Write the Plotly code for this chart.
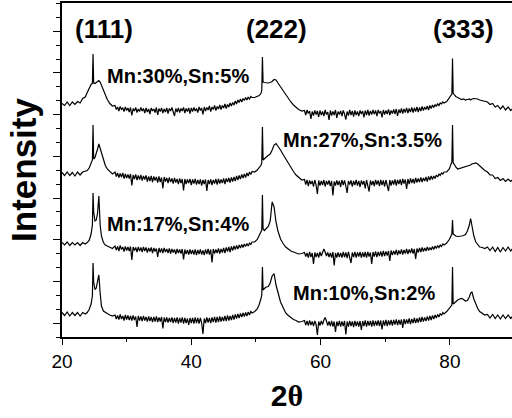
import plotly.graph_objects as go

# 2-theta grid (degrees), shared by all four scans
two_theta = [
    20.0, 20.4, 20.8, 21.2, 21.6, 22.0, 22.4, 22.8, 23.2, 23.6,
    23.9, 24.2, 24.5, 24.7, 24.8, 24.9, 25.1, 25.3, 25.5, 25.7, 25.9, 26.1, 26.4, 26.7, 27.0, 27.4, 27.8,
    28.2, 28.4, 28.6, 28.8, 29.0, 29.2, 29.4, 29.6, 29.8, 30.0,
    30.2, 30.4, 30.6, 30.8, 31.0, 31.2, 31.4, 31.6, 31.8, 32.0,
    32.2, 32.4, 32.6, 32.8, 33.0, 33.2, 33.4, 33.6, 33.8, 34.0,
    34.2, 34.4, 34.6, 34.8, 35.0, 35.2, 35.4, 35.6, 35.8, 36.0,
    36.2, 36.4, 36.6, 36.8, 37.0, 37.2, 37.4, 37.6, 37.8, 38.0,
    38.2, 38.4, 38.6, 38.8, 39.0, 39.2, 39.4, 39.6, 39.8, 40.0,
    40.2, 40.4, 40.6, 40.8, 41.0, 41.2, 41.4, 41.6, 41.8, 42.0,
    42.2, 42.4, 42.6, 42.8, 43.0, 43.2, 43.4, 43.6, 43.8, 44.0,
    44.2, 44.4, 44.6, 44.8, 45.0, 45.2, 45.4, 45.6, 45.8, 46.0,
    46.2, 46.4, 46.6, 46.8, 47.0, 47.2, 47.4, 47.6, 47.8, 48.0,
    48.2, 48.4, 48.6, 48.8, 49.0, 49.2, 49.4,
    49.8, 50.2, 50.5, 50.8, 50.9, 51.0, 51.1, 51.3, 51.6, 51.9, 52.2, 52.5, 52.8, 53.1, 53.4, 53.8, 54.2, 54.6,
    55.0, 55.4, 55.8, 56.2, 56.6, 57.1,
    57.5, 57.7, 57.9, 58.1, 58.3, 58.5, 58.7, 58.9, 59.1, 59.3,
    59.5, 59.7, 59.9, 60.1, 60.3, 60.5, 60.7, 60.9, 61.1, 61.3,
    61.5, 61.7, 61.9, 62.1, 62.3, 62.5, 62.7, 62.9, 63.1, 63.3,
    63.5, 63.7, 63.9, 64.1, 64.3, 64.5, 64.7, 64.9, 65.1, 65.3,
    65.5, 65.7, 65.9, 66.1, 66.3, 66.5, 66.7, 66.9, 67.1, 67.3,
    67.5, 67.7, 67.9, 68.1, 68.3, 68.5, 68.7, 68.9, 69.1, 69.3,
    69.5, 69.7, 69.9, 70.1, 70.3, 70.5, 70.7, 70.9, 71.1, 71.3,
    71.5, 71.7, 71.9, 72.1, 72.3, 72.5, 72.7, 72.9, 73.1, 73.3,
    73.5, 73.7, 73.9, 74.1, 74.3, 74.5, 74.7, 74.9, 75.1, 75.3,
    75.5, 75.7, 75.9, 76.1, 76.3, 76.5, 76.7, 76.9, 77.1, 77.3,
    77.5, 77.7, 77.9, 78.1, 78.3, 78.5, 78.7, 78.9, 79.1,
    79.5, 79.9, 80.2, 80.3, 80.4, 80.5, 80.7, 80.9, 81.2, 81.5, 81.8, 82.1, 82.4, 82.7, 83.0, 83.2, 83.4, 83.7,
    84.0, 84.3, 84.6, 85.0, 85.4,
    85.8, 86.2, 86.6, 87.0, 87.4, 87.8, 88.2, 88.6, 89.0, 89.4, 89.8,
]

# Intensity (a.u., stacked)
mn30_sn5 = [
    233.5, 231.5, 235, 231.5, 235, 232.5, 235.5, 234, 238.5, 240,
    244.5, 249, 252.5, 253.5, 283, 254, 253.5, 254.5, 256, 256.5, 255, 251.5, 247, 242, 237.5, 233.5, 231,
    231.5, 227.5, 230, 226, 230.5, 227.5, 229, 225.5, 230, 226.5,
    229, 225, 229.5, 221.5, 228.5, 226, 229.5, 224.5, 228, 225.5,
    229.5, 226, 228.5, 224, 229, 225, 228, 223, 229, 226,
    228, 224.5, 229.5, 222, 228.5, 225.5, 229, 224, 228, 225,
    229, 223.5, 228.5, 226, 229.5, 224.5, 221, 228.5, 225, 229,
    224.5, 228.5, 226, 229.5, 224, 228.5, 225.5, 229, 223.5, 229,
    225.5, 229.5, 226, 228.5, 224.5, 230, 226.5, 229, 222.5, 230,
    226, 229.5, 227, 231, 225.5, 230, 227.5, 231.5, 226.5, 230.5,
    228, 232, 227.5, 231.5, 229, 233, 228.5, 232.5, 230, 234,
    231, 234.5, 232, 236, 233, 237, 234.5, 238, 235, 238.5,
    236.5, 239.5, 237, 240, 238, 240.5, 239.5,
    239.5, 240.5, 241.5, 244, 247, 280, 255, 254.5, 254, 254, 254.5, 255.5, 257.5, 257, 254, 250, 246, 242.5,
    238.5, 235, 232, 229.5, 227.5, 226,
    226.5, 222, 227, 223.5, 226, 218, 225.5, 221.5, 226.5, 222.5,
    226, 220, 226.5, 222, 225.5, 221, 227, 222.5, 225, 217,
    226.5, 221.5, 225.5, 222, 227, 219, 225.5, 222.5, 226, 221,
    226.5, 223, 217.5, 225.5, 221.5, 227, 222, 226, 220.5, 226.5,
    222, 225.5, 221, 226.5, 223, 226, 219.5, 226.5, 222, 227,
    221.5, 226, 222.5, 227, 223, 226.5, 221, 227, 223.5, 226,
    219.5, 227, 222.5, 226.5, 223, 227.5, 222, 226.5, 223.5, 227.5,
    223, 228, 221, 227.5, 224, 228.5, 223.5, 228, 224.5, 229,
    224, 228.5, 225, 229.5, 224.5, 229, 225.5, 230, 225, 229.5,
    226, 230.5, 226.5, 230, 227.5, 231, 227, 231.5, 228.5, 232,
    229.5, 232.5, 230.5, 233.5, 231.5, 234, 233, 235, 234,
    235.5, 239, 241.5, 243, 278.5, 244, 242, 240.5, 239.5, 238.5, 237.5, 238, 237, 237.5, 238, 237, 238, 238.5,
    238.5, 238, 237, 236.5, 235.5,
    235, 232.5, 233.5, 230, 231.5, 228, 231, 227, 230, 226.5, 229,
]

mn27_sn35 = [
    164.5, 161.5, 165, 161.5, 164.5, 161, 165, 162, 165, 165.5,
    166.5, 169, 174, 177, 212, 178, 179.5, 183, 188, 193, 189, 183.5, 177, 171.5, 168, 165.5, 163,
    165, 160.5, 164, 159.5, 163.5, 160, 164, 158.5, 163, 159,
    162.5, 158.5, 163, 151.5, 162, 158, 162.5, 157, 161.5, 157.5,
    162, 156.5, 161, 157.5, 161.5, 155.5, 160.5, 156, 161, 155,
    160.5, 156.5, 160, 154.5, 160.5, 155, 159.5, 148.5, 160, 155.5,
    159, 154, 159.5, 155, 158.5, 153.5, 159, 154.5, 158, 153,
    158.5, 154, 158, 146.5, 158, 153, 157.5, 154, 158, 152,
    157.5, 153.5, 158, 152.5, 157, 153, 157.5, 151.5, 157, 153,
    157.5, 146, 157, 153, 157.5, 152, 157, 153.5, 158, 152.5,
    158, 153.5, 157.5, 154, 158.5, 153, 158.5, 155, 159, 154.5,
    159.5, 155.5, 160, 156, 161, 157, 161.5, 158, 162.5, 159,
    163, 159.5, 164, 161, 165, 162.5, 165.5,
    165, 167, 169.5, 172, 174.5, 210, 177, 178.5, 180, 181.5, 183, 187, 192, 193.5, 191, 187, 182.5, 178,
    174, 169.5, 165.5, 162, 159.5, 157,
    157.5, 152.5, 157, 151, 156.5, 153, 156, 150.5, 157, 152,
    143, 156.5, 151.5, 156, 152, 157, 150.5, 156, 152.5, 156.5,
    151, 156, 141.5, 155.5, 151.5, 156.5, 152, 156, 150, 157,
    152, 156.5, 151, 144, 156, 152.5, 156.5, 150.5, 156, 152,
    157, 151.5, 156, 150, 156.5, 152.5, 156, 148.5, 157, 151.5,
    145.5, 156.5, 152, 156, 151, 157, 152.5, 156.5, 151, 157,
    152, 156.5, 150.5, 157, 152.5, 146, 157, 151.5, 156.5, 152.5,
    157.5, 151.5, 157, 153, 157.5, 152, 158, 153.5, 157.5, 148,
    158, 153, 158.5, 154, 158, 153.5, 159, 154.5, 158.5, 155,
    159.5, 155, 159, 156, 160, 155.5, 160.5, 157, 161, 157.5,
    161, 158.5, 162, 160, 163, 161.5, 164, 163, 165,
    165, 168, 172, 175, 212, 174, 172.5, 170, 168, 168.5, 169, 169.5, 170, 170.5, 171, 172, 173, 173.5,
    174, 173, 171, 169, 166.5,
    165, 162, 162, 158.5, 159.5, 156.5, 158.5, 155.5, 158, 155.5, 158,
]

mn17_sn4 = [
    94.5, 92, 95, 91.5, 94.5, 92, 94.5, 91.5, 94.5, 93,
    94.5, 96.5, 103, 112, 144, 125, 116, 117, 124, 141, 112, 101, 94.5, 92, 91, 90, 88.5,
    91, 87, 90.5, 86, 91.5, 87.5, 90, 85.5, 90.5, 86.5,
    90, 86, 90.5, 77, 90, 86.5, 89.5, 85, 90, 86,
    89.5, 85, 90, 86, 89.5, 84.5, 89, 85.5, 89.5, 84,
    89, 85.5, 88.5, 80, 89, 84.5, 88.5, 84, 89, 85,
    88, 84, 88.5, 83.5, 88, 84.5, 87.5, 83, 88, 84,
    87.5, 83.5, 88, 77.5, 87.5, 83, 87, 82.5, 87.5, 83,
    87, 82.5, 87.5, 82, 87, 83, 87.5, 82.5, 86.5, 82,
    87.5, 83, 88, 82.5, 87.5, 74.5, 88, 83.5, 87.5, 84,
    88.5, 83.5, 88, 84.5, 89, 84, 89.5, 85.5, 90, 85,
    90.5, 86.5, 91, 87.5, 91.5, 88, 92, 89, 92.5, 89.5,
    93, 90.5, 93.5, 91, 94, 92.5, 95,
    95, 97.5, 101, 105, 107, 142, 108, 106.5, 108.5, 110.5, 116, 135, 130, 115, 106, 98, 93.5, 90,
    88, 86, 85, 84, 83, 83.5,
    84.5, 80.5, 84, 79.5, 85, 80, 84, 73, 84.5, 80,
    84, 79.5, 85, 81, 86, 88, 85, 81, 84.5, 80,
    84, 79.5, 85, 71.5, 84, 79.5, 84.5, 80, 84, 79.5,
    85, 80, 84.5, 79, 85, 80.5, 74, 84.5, 80, 85,
    79.5, 84.5, 80.5, 85, 79.5, 84.5, 80, 85, 79.5, 85,
    80.5, 84.5, 73, 85, 80.5, 85.5, 80, 85, 81, 85.5,
    80.5, 86, 81, 85.5, 81.5, 86, 76, 86.5, 82, 86,
    82.5, 87, 82, 86.5, 83, 87.5, 82.5, 87, 83.5, 88,
    83, 87.5, 84, 88.5, 83.5, 88, 78, 88.5, 84.5, 89,
    85, 89.5, 85.5, 89, 86, 90, 86.5, 89.5, 87, 90.5,
    87.5, 91, 88.5, 91.5, 89.5, 92, 90.5, 93, 92,
    94, 97.5, 101.5, 103, 117, 103, 102, 101, 100.5, 100.5, 101, 101.5, 102.5, 106, 112, 118.5, 110, 101,
    95, 92, 90, 89.5, 88.5,
    90, 86.5, 90, 85.5, 89.5, 85, 89.5, 86, 90, 86, 89.5,
]

mn10_sn2 = [
    24.5, 21.5, 25, 21, 24.5, 21.5, 24.5, 21, 24.5, 23,
    24.5, 27.5, 33, 41, 74, 55, 47.5, 49, 56, 62, 44, 31, 26, 24.5, 23.5, 22, 21,
    22, 18, 21.5, 17.5, 22.5, 18, 21, 16.5, 22, 17.5,
    21.5, 17, 21, 16.5, 21.5, 17, 20.5, 10, 21, 16.5,
    20.5, 16, 21, 16.5, 20, 15.5, 20.5, 16, 20, 15,
    20, 15.5, 20.5, 15, 19.5, 15.5, 20, 8.5, 19.5, 15,
    19.5, 14.5, 19, 15, 19.5, 14, 19, 14.5, 19.5, 13.5,
    19, 14.5, 19.5, 13.5, 19, 14, 18.5, 12, 19, 14,
    19, 13.5, 19.5, 14, 19, 13.5, 19, 14, 3, 18.5,
    14, 19.5, 14.5, 19, 14, 19.5, 15, 20, 14.5, 20,
    15, 20.5, 15.5, 20, 16, 21, 16, 21.5, 16.5, 21,
    17, 22, 17.5, 22.5, 18.5, 23, 19, 23.5, 20, 24,
    20.5, 24.5, 21, 25, 22, 25.5, 24,
    25.5, 28, 32.5, 39, 42, 70, 47, 48.5, 50, 50.5, 54, 61, 63.5, 52, 44, 35, 29.5, 24,
    21.5, 19.5, 17.5, 16.5, 15, 15.5,
    16.5, 12, 16, 11.5, 16.5, 12, 15.5, 11, 16, 12.5,
    2, 15.5, 11.5, 16, 12.5, 17, 19.5, 16, 11.5, 15.5,
    11, 16, 10.5, 15.5, 5, 15.5, 11, 16, 10.5, 15.5,
    11, 16, 2.5, 15.5, 10.5, 16, 11, 15.5, 10, 16,
    11, 15.5, 10.5, 16, 7, 16, 11, 16.5, 10.5, 16,
    11.5, 16, 10.5, 16.5, 11, 16, 11.5, 16.5, 11, 16.5,
    7.5, 16.5, 11.5, 17, 11, 16.5, 12, 17, 11.5, 17,
    12.5, 17.5, 12, 17, 12.5, 17.5, 9, 18, 13, 17.5,
    13.5, 18.5, 13, 18, 14, 19, 14, 18.5, 14.5, 19.5,
    15, 20, 15.5, 19.5, 16, 20.5, 16.5, 21, 17, 21.5,
    18, 22, 19, 22.5, 20, 23.5, 21.5, 24.5, 23,
    25.5, 28.5, 31, 32, 70, 33, 34, 35.5, 37, 38, 38.5, 37.5, 36, 36.5, 40, 44, 45, 38,
    33, 28.5, 25.5, 23.5, 22,
    22.5, 19, 22.5, 18.5, 22, 18, 22, 18.5, 22, 18.5, 21.5,
]

series = [mn30_sn5, mn27_sn35, mn17_sn4, mn10_sn2]

peak_labels = ["(111)", "(222)", "(333)"]
peak_label_x = [26.57, 53.1, 82.16]
peak_label_y = [308.5, 308.5, 308.5]

sample_labels = ["Mn:30%,Sn:5%", "Mn:27%,Sn:3.5%", "Mn:17%,Sn:4%", "Mn:10%,Sn:2%"]
sample_label_x = [37.9, 66.5, 37.9, 66.7]
sample_label_y = [261.2, 197, 113, 44.5]

x_tick_vals = [20, 40, 60, 80]
x_tick_text = ["20", "40", "60", "80"]

FONT = "Liberation Sans, Arial, sans-serif"

fig = go.Figure()
for ys in series:
    fig.add_trace(go.Scatter(x=two_theta, y=ys, mode="lines",
                             line=dict(color="black", width=1.2), showlegend=False,
                             hoverinfo="skip"))

annotations = []
for t, x, y in zip(peak_labels, peak_label_x, peak_label_y):
    annotations.append(dict(x=x, y=y, xref="x", yref="y", text="<b>%s</b>" % t, showarrow=False,
                            font=dict(family=FONT, size=26, color="black"),
                            xanchor="center", yanchor="middle"))
for t, x, y in zip(sample_labels, sample_label_x, sample_label_y):
    annotations.append(dict(x=x, y=y, xref="x", yref="y", text="<b>%s</b>" % t, showarrow=False,
                            font=dict(family=FONT, size=20, color="black"),
                            xanchor="center", yanchor="middle"))

fig.update_layout(
    width=512, height=418,
    margin=dict(l=62, r=0, t=3, b=81, autoexpand=False),
    paper_bgcolor="white", plot_bgcolor="white",
    font=dict(family=FONT, color="black"),
    annotations=annotations,
    xaxis=dict(
        range=[20, 89.6], tickmode="array", tickvals=x_tick_vals, ticktext=x_tick_text,
        ticks="outside", ticklen=6, tickwidth=1.3, tickcolor="black",
        minor=dict(dtick=10, tick0=0, ticks="outside", ticklen=3, tickwidth=1.3, tickcolor="black"),
        showline=True, linecolor="black", linewidth=1.5, mirror=True,
        showgrid=False, zeroline=False, automargin=False,
        tickfont=dict(family=FONT, size=19, color="black"),
        title=dict(text="<b>2<span style='font-family:Liberation Serif'>θ</span></b>",
                   font=dict(family=FONT, size=30, color="black"), standoff=14),
    ),
    yaxis=dict(
        range=[0, 334], tickmode="linear", tick0=13.9, dtick=41.7,
        ticks="outside", ticklen=7, tickwidth=1.3, tickcolor="black",
        minor=dict(dtick=13.9, tick0=0, ticks="outside", ticklen=4, tickwidth=1.3, tickcolor="black"),
        showticklabels=False,
        showline=True, linecolor="black", linewidth=1.5, mirror=False,
        showgrid=False, zeroline=False, automargin=False,
        title=dict(text="<b>Intensity</b>", font=dict(family=FONT, size=35, color="black"), standoff=6),
    ),
)

fig.write_html("out.html", config={"displayModeBar": False},
               post_script="document.body.style.margin='0px';")
